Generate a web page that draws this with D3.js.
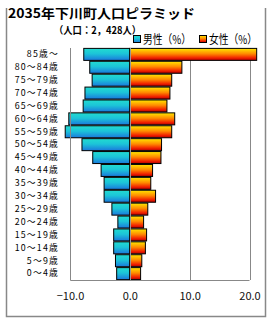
<!DOCTYPE html>
<html><head><meta charset="utf-8">
<script src="https://cdn.jsdelivr.net/npm/d3@7"></script>
<style>body{margin:0;background:#fff}svg{display:block}</style>
</head><body>
<script>
const categories = ["85歳～","80～84歳","75～79歳","70～74歳","65～69歳","60～64歳","55～59歳","50～54歳","45～49歳","40～44歳","35～39歳","30～34歳","25～29歳","20～24歳","15～19歳","10～14歳","5～9歳","0～4歳"];
const male = [-7.7,-6.7,-6.3,-7.5,-7.8,-10.2,-10.8,-8.0,-6.2,-4.8,-4.3,-4.3,-3.0,-2.0,-2.7,-2.7,-2.4,-2.2];
const female = [21.2,8.7,7.0,6.7,6.2,7.5,7.0,5.3,5.2,3.8,3.5,4.3,3.0,2.3,2.8,2.6,2.0,1.8];
const tickValues = [-10,0,10,20];
const seriesNames = ["男性（%）","女性（%）"];

const W=270,H=320;
const svg=d3.select("body").append("svg").attr("width",W).attr("height",H);
const font="'Noto Sans CJK JP','Noto Sans',sans-serif";

const defs=svg.append("defs");
const gm=defs.append("linearGradient").attr("id","gm").attr("x1",0).attr("y1",0).attr("x2",0).attr("y2",1);
gm.append("stop").attr("offset","0%").attr("stop-color","#22dcd0");
gm.append("stop").attr("offset","45%").attr("stop-color","#1cc4d8");
gm.append("stop").attr("offset","100%").attr("stop-color","#1a78dc");
const gf=defs.append("linearGradient").attr("id","gf").attr("x1",0).attr("y1",0).attr("x2",0).attr("y2",1);
gf.append("stop").attr("offset","0%").attr("stop-color","#ffe800");
gf.append("stop").attr("offset","45%").attr("stop-color","#ff8a00");
gf.append("stop").attr("offset","80%").attr("stop-color","#f02000");
gf.append("stop").attr("offset","100%").attr("stop-color","#b00000");

// frame
svg.append("path").attr("d","M6.5,8 V316.5 H265.5 V8").attr("fill","none").attr("stroke","#888").attr("stroke-width",1.5);

// titles
svg.append("text").attr("x",8).attr("y",17.5).attr("font-family",font).attr("font-weight","bold")
  .attr("font-size",13).attr("textLength",187).attr("lengthAdjust","spacingAndGlyphs").attr("fill","#000").text("2035年下川町人口ピラミッド");
svg.append("text").attr("x",54).attr("y",33.5).attr("font-family",font).attr("font-weight","bold")
  .attr("font-size",10).attr("textLength",87).attr("lengthAdjust","spacingAndGlyphs").attr("fill","#000").text("（人口：2，428人）");

const x=d3.scaleLinear().domain([-10,20]).range([70,249.5]);
const y=d3.scaleBand().domain(categories).range([48,280]).paddingInner(0.07).paddingOuter(0.03);

// gridlines
svg.append("g").selectAll("line").data(tickValues.filter(d=>d>-10)).join("line")
  .attr("x1",d=>Math.round(x(d))+0.5).attr("x2",d=>Math.round(x(d))+0.5).attr("y1",48).attr("y2",280)
  .attr("stroke","#888").attr("stroke-width",1);

// bars
const rows=categories.map((c,i)=>({c,m:male[i],f:female[i]}));
svg.append("g").selectAll("rect").data(rows).join("rect")
  .attr("x",d=>x(d.m)).attr("width",d=>x(0)-x(d.m)).attr("y",d=>y(d.c)).attr("height",y.bandwidth())
  .attr("fill","url(#gm)").attr("stroke","#000").attr("stroke-width",1);
svg.append("g").selectAll("rect").data(rows).join("rect")
  .attr("x",x(0)).attr("width",d=>x(d.f)-x(0)).attr("y",d=>y(d.c)).attr("height",y.bandwidth())
  .attr("fill","url(#gf)").attr("stroke","#000").attr("stroke-width",1);

// zero line on top
svg.append("line").attr("x1",Math.round(x(0))+0.5).attr("x2",Math.round(x(0))+0.5).attr("y1",48).attr("y2",280).attr("stroke","#999").attr("stroke-width",1);

// axes lines
svg.append("path").attr("d",`M70.5,48 V280.5 H${x(20)}`).attr("fill","none").attr("stroke","#888").attr("stroke-width",1);

// y labels
const yAxis=svg.append("g").attr("transform","translate(59,0)")
  .call(d3.axisLeft(y).tickSize(0).tickPadding(0));
yAxis.select(".domain").remove();
yAxis.selectAll("text").attr("font-family",font).attr("font-size",8.8).attr("letter-spacing",1.2).attr("fill","#000");

// x labels
const xAxis=svg.append("g").attr("transform","translate(0,289)")
  .call(d3.axisBottom(x).tickValues(tickValues).tickSize(0).tickFormat(d3.format(".1f")));
xAxis.select(".domain").remove();
xAxis.selectAll("text").attr("font-family",font).attr("font-size",11).attr("fill","#111")
  .text(d=>d<0?"−"+Math.abs(d).toFixed(1):d.toFixed(1));

// legend
const leg=[{n:seriesNames[0],g:"url(#gm)",x:133},{n:seriesNames[1],g:"url(#gf)",x:199}];
const lg=svg.append("g").selectAll("g").data(leg).join("g").attr("transform",d=>`translate(${d.x},0)`);
lg.append("rect").attr("x",0.5).attr("y",35.5).attr("width",7).attr("height",7).attr("fill",d=>d.g).attr("stroke","#000");
lg.append("text").attr("x",10).attr("y",43.5).attr("font-family",font).attr("font-size",12).attr("fill","#000")
  .attr("textLength",48).attr("lengthAdjust","spacingAndGlyphs").text(d=>d.n);
</script>
</body></html>
